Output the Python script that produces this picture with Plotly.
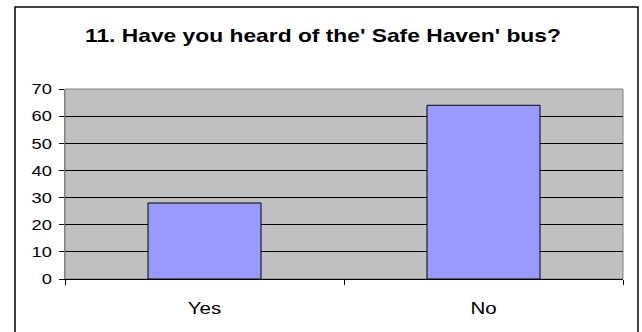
import plotly.graph_objects as go

# Survey responses
categories = ["Yes", "No"]
responses = [28, 64]
y_ticks = [0, 10, 20, 30, 40, 50, 60, 70]

title_text = "11. Have you heard of the' Safe Haven' bus?"
FONT = "Liberation Sans, Arial, sans-serif"

fig = go.Figure(
    go.Bar(
        x=categories,
        y=responses,
        width=0.405,
        marker=dict(color="#9999FF", line=dict(color="#000000", width=1)),
    )
)

fig.update_layout(
    width=642,
    height=332,
    margin=dict(l=65, r=19, t=89, b=53),
    paper_bgcolor="#FFFFFF",
    plot_bgcolor="#C0C0C0",
    showlegend=False,
    font=dict(family=FONT, color="#000000", size=15),
    title=dict(
        text="<b>" + title_text + "</b>",
        x=0.503,
        xanchor="center",
        y=0.895,
        yanchor="middle",
        font=dict(size=19, family=FONT, color="#000000"),
    ),
)

fig.update_xaxes(
    type="category",
    showgrid=False,
    showline=True,
    linecolor="#000000",
    linewidth=1,
    ticks="outside",
    tickson="boundaries",
    ticklen=5,
    tickcolor="#000000",
    tickfont=dict(size=16),
    ticklabelstandoff=15,
)

fig.update_yaxes(
    range=[0, 70],
    tickvals=y_ticks,
    showgrid=True,
    gridcolor="#000000",
    gridwidth=1,
    zeroline=False,
    showline=True,
    linecolor="#808080",
    linewidth=1,
    ticks="outside",
    ticklen=5,
    tickcolor="#000000",
    tickfont=dict(size=15),
    ticklabelstandoff=4,
)

# Plot-area frame and the outer chart border
fig.add_shape(type="rect", xref="paper", yref="paper", x0=0, x1=1, y0=0, y1=1,
              line=dict(color="#808080", width=1), layer="below")
fig.add_shape(type="rect", xref="paper", yref="paper",
              x0=-50 / 558, x1=573 / 558, y0=-0.5, y1=272 / 190,
              line=dict(color="#000000", width=1.5), fillcolor="rgba(0,0,0,0)")

# Widen the lettering horizontally (glyphs stretched, height unchanged)
stretch_js = """
(function () {
  var gd = document.querySelector('.plotly-graph-div');
  function widen(sel, k) {
    gd.querySelectorAll(sel).forEach(function (t) {
      var w = t.getComputedTextLength();
      t.setAttribute('textLength', (w * k).toFixed(2));
      t.setAttribute('lengthAdjust', 'spacingAndGlyphs');
    });
  }
  widen('text.gtitle', 1.2);
  widen('g.xtick text', 1.28);
  widen('g.ytick text', 1.22);
})();
"""

fig.write_html("out.html", post_script=stretch_js)
